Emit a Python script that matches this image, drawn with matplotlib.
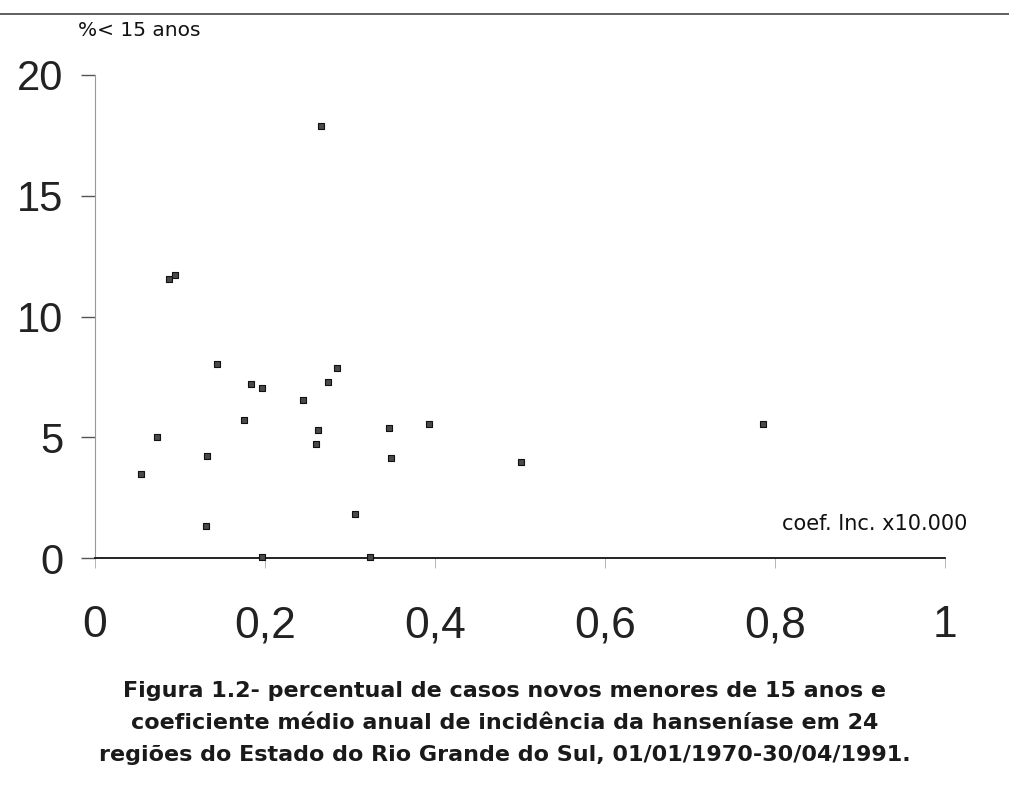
import matplotlib
matplotlib.use("Agg")
import matplotlib.pyplot as plt
from matplotlib.lines import Line2D

# Data (coef. incidência x10.000, % casos < 15 anos)
coef_inc = [0.266, 0.087, 0.094, 0.144, 0.184, 0.196, 0.285, 0.274, 0.245,
            0.175, 0.073, 0.262, 0.260, 0.346, 0.348, 0.132, 0.054, 0.306,
            0.131, 0.196, 0.324, 0.393, 0.501, 0.786]
pct_menor15 = [17.9, 11.55, 11.72, 8.02, 7.19, 7.03, 7.85, 7.27, 6.54,
               5.70, 5.02, 5.30, 4.72, 5.38, 4.14, 4.22, 3.47, 1.84,
               1.34, 0.03, 0.03, 5.55, 3.96, 5.55]

x_ticks = [0, 0.2, 0.4, 0.6, 0.8, 1]
x_tick_labels = ["0", "0,2", "0,4", "0,6", "0,8", "1"]
y_ticks = [0, 5, 10, 15, 20]
y_tick_labels = ["0", "5", "10", "15", "20"]

y_label = "%< 15 anos"
x_label = "coef. Inc. x10.000"
caption = [
    "Figura 1.2- percentual de casos novos menores de 15 anos e",
    "coeficiente médio anual de incidência da hanseníase em 24",
    "regiões do Estado do Rio Grande do Sul, 01/01/1970-30/04/1991.",
]

plt.rcParams['font.family'] = ['Liberation Sans', 'DejaVu Sans']

W, H = 1009, 802
fig = plt.figure(figsize=(W / 100, H / 100), dpi=100)
fig.patch.set_facecolor('white')

ax = fig.add_axes([95 / W, 1 - 558 / H, 850 / W, (558 - 75) / H])
ax.scatter(coef_inc, pct_menor15, marker='s', s=20, facecolor='#4a4a4a',
           edgecolor='#111111', linewidths=0.8, zorder=3, clip_on=False)

ax.set_xlim(0, 1)
ax.set_ylim(0, 20)
ax.set_xticks(x_ticks)
ax.set_xticklabels(x_tick_labels, fontsize=32, color='#222222')
ax.set_yticks(y_ticks)
ax.set_yticklabels(y_tick_labels, fontsize=30, color='#222222')

ax.tick_params(axis='x', direction='out', length=7, width=0.6, color='#aaaaaa', pad=27)
ax.tick_params(axis='y', direction='out', length=10, width=1.0, color='#555555', pad=13)

for s in ['top', 'right']:
    ax.spines[s].set_visible(False)
ax.spines['bottom'].set_color('#111111')
ax.spines['bottom'].set_linewidth(1.3)
ax.spines['left'].set_color('#999999')
ax.spines['left'].set_linewidth(0.8)
ax.spines['left'].set_linestyle((0, (3, 1)))

# top rule across the page
fig.add_artist(Line2D([0, 1], [1 - 14 / H, 1 - 14 / H], color='#444444', lw=1.2))

fig.text(78 / W, 1 - 36 / H, y_label, fontsize=14.5, color='#111111',
         ha='left', va='baseline', family='DejaVu Sans')
fig.text(967 / W, 1 - 530 / H, x_label, fontsize=15, color='#111111',
         ha='right', va='baseline', family='DejaVu Sans')

cap_y = [691, 723, 755]
for line, yy in zip(caption, cap_y):
    fig.text(505 / W, 1 - yy / H, line, fontsize=16, fontweight='bold',
             color='#1a1a1a', ha='center', va='center', family='DejaVu Sans')

fig.savefig('out.png', dpi=100, facecolor='white')
